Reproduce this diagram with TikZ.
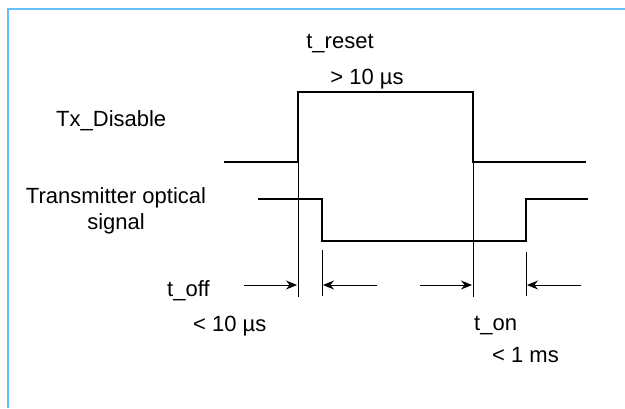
\documentclass[tikz,border=0pt]{standalone}
\usepackage{fontspec}
\setmainfont{Liberation Sans}
\usetikzlibrary{arrows.meta}
\definecolor{framec}{HTML}{66BFFF}
\begin{document}
\begin{tikzpicture}[x=1pt,y=-1pt,
  lbl/.style={inner sep=0pt,font=\fontsize{22}{26}\selectfont},
  sig/.style={line width=1.2pt},
  markline/.style={line width=1.0pt},
  dim/.style={line width=1.0pt,-{Stealth[length=11pt,width=9pt]}}]
\useasboundingbox (0,0) rectangle (625,408);
\draw[framec,line width=2.2pt] (8,408) -- (8,9) -- (625,9);
% labels
\node[lbl] (treset) at (340,44) {t\_reset};
\node[lbl] (tresetv) at (367,79) {> 10 µs};
\node[lbl,anchor=west] (txd) at (56,121) {Tx\_Disable};
\node[lbl,align=center] (tos) at (116,211) {Transmitter optical\\signal};
\node[lbl,anchor=west] (toff) at (167,291) {t\_off};
\node[lbl,anchor=west] (toffv) at (193,326) {< 10 µs};
\node[lbl,anchor=west] (ton) at (474,326) {t\_on};
\node[lbl,anchor=west] (tonv) at (492,355) {< 1 ms};
% Tx_Disable waveform
\coordinate (d0) at (224,162);
\coordinate (d1) at (298,162);
\coordinate (d2) at (298,92);
\coordinate (d3) at (473,92);
\coordinate (d4) at (473,162);
\coordinate (d5) at (586,162);
\draw[sig] (d0) -- (d1) -- (d2) -- (d3) -- (d4) -- (d5);
% optical waveform
\coordinate (o0) at (258,199);
\coordinate (o1) at (322,199);
\coordinate (o2) at (322,241);
\coordinate (o3) at (526,241);
\coordinate (o4) at (526,199);
\coordinate (o5) at (588,199);
\draw[sig] (o0) -- (o1) -- (o2) -- (o3) -- (o4) -- (o5);
% marker lines
\coordinate (m1t) at (298,160); \coordinate (m1b) at (298,297);
\coordinate (m2t) at (473,158); \coordinate (m2b) at (473,297);
\coordinate (m3t) at (322,250); \coordinate (m3b) at (322,296);
\coordinate (m4t) at (526,252); \coordinate (m4b) at (526,296);
\draw[markline] (m1t) -- (m1b);
\draw[markline] (m2t) -- (m2b);
\draw[markline] (m3t) -- (m3b);
\draw[markline] (m4t) -- (m4b);
% dimension arrows
\coordinate (a1s) at (244,285); \coordinate (a1e) at (297,285);
\coordinate (a2s) at (377,285); \coordinate (a2e) at (323,285);
\coordinate (a3s) at (420,285); \coordinate (a3e) at (472,285);
\coordinate (a4s) at (581,285); \coordinate (a4e) at (527,285);
\draw[dim] (a1s) -- (a1e);
\draw[dim] (a2s) -- (a2e);
\draw[dim] (a3s) -- (a3e);
\draw[dim] (a4s) -- (a4e);
\end{tikzpicture}
\end{document}
